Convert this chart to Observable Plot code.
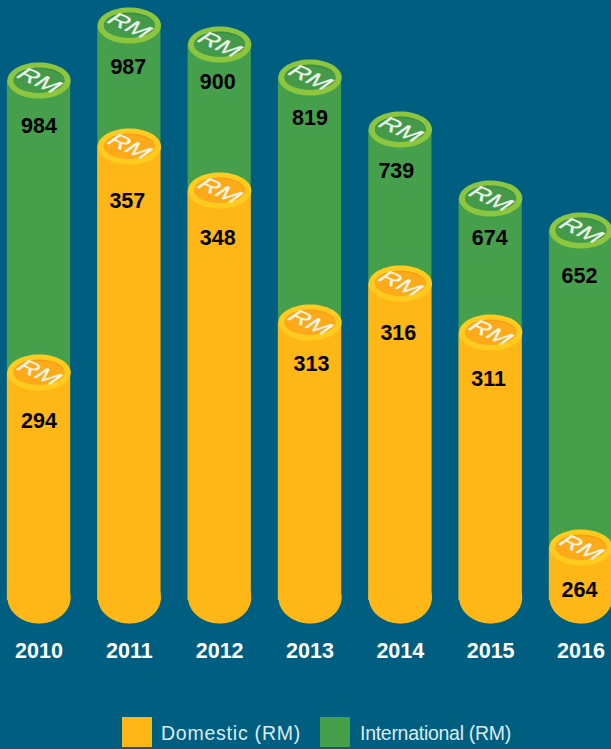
<!DOCTYPE html>
<html>
<head>
<meta charset="utf-8">
<script src="https://cdn.jsdelivr.net/npm/d3@7"></script>
<script src="https://cdn.jsdelivr.net/npm/@observablehq/plot@0.6"></script>
<style>
  html, body { margin: 0; padding: 0; background: #005f80; width: 611px; height: 749px; overflow: hidden; }
  #legend { position: relative; height: 32px; font-family: "Liberation Sans", Arial, sans-serif; font-size: 19.5px; color: #dcebf0; }
  #legend span { position: absolute; top: 0; line-height: 32px; white-space: nowrap; }
  #legend i { position: absolute; top: 0; width: 30px; height: 30px; display: block; }
</style>
</head>
<body>
<div id="chart"></div>
<div id="legend"></div>
<script>
const years = ["2010", "2011", "2012", "2013", "2014", "2015", "2016"];
const domesticValues = [294, 357, 348, 313, 316, 311, 264];
const internationalValues = [984, 987, 900, 819, 739, 674, 652];
// The columns are not to scale with their labels: these are the drawn heights.
const domesticHeights = [228, 454, 410, 278, 317, 268, 53];
const internationalHeights = [520, 575, 556, 523, 471, 402, 370];
const domesticLabelHeights = [179, 399, 362, 236, 267, 221, 10];
const internationalLabelHeights = [474, 533, 518, 482, 429, 362, 324];
const legendLabels = ["Domestic (RM)", "International (RM)"];

const colors = {
  background: "#005f80",
  domestic: "#ffb617", domesticRing: "#ffcb1e", domesticInner: "#fcaa19", domesticEdge: "#f7a018",
  international: "#459f4b", internationalRing: "#8cc63f", internationalInner: "#459a4a", internationalEdge: "#3c8e49"
};
const legendLayout = [
  {swatch: 122, text: 161, spacing: 0.77, color: colors.domestic},
  {swatch: 320, text: 360, spacing: -0.28, color: colors.international}
];
// Small horizontal nudges of the labels, as placed by hand in the picture.
const domesticLabelNudge = [0, -2, -2, 1.5, -2, -2, -1.5];
const internationalLabelNudge = [0, -1, -2, 0, -4, -1, -1.5];

const table = years.map((year, i) => ({
  year,
  domestic: domesticValues[i], international: internationalValues[i],
  dh: domesticHeights[i], ih: internationalHeights[i],
  dl: domesticLabelHeights[i], il: internationalLabelHeights[i],
  dn: domesticLabelNudge[i], in: internationalLabelNudge[i]
}));

// Flattened circle symbol, so the dot mark draws the cylinder ellipses.
const ellipse = (ratio) => ({
  draw(ctx, size) {
    const rx = Math.sqrt(size / Math.PI), ry = rx * ratio, k = 0.5523;
    ctx.moveTo(-rx, 0);
    ctx.bezierCurveTo(-rx, -k * ry, -k * rx, -ry, 0, -ry);
    ctx.bezierCurveTo(k * rx, -ry, rx, -k * ry, rx, 0);
    ctx.bezierCurveTo(rx, k * ry, k * rx, ry, 0, ry);
    ctx.bezierCurveTo(-k * rx, ry, -rx, k * ry, -rx, 0);
    ctx.closePath();
  }
});

function column(heightKey, labelKey, valueKey, nudgeKey, body, ring, edge, inner) {
  return [
    Plot.barY(table, {x: "year", y1: 0, y2: heightKey, fill: body}),
    Plot.dot(table, {x: "year", y: 0, dy: -3, r: 31.5, symbol: ellipse(0.825), fill: body}),
    Plot.dot(table, {x: "year", y: heightKey, r: 31.7, symbol: ellipse(0.57), fill: ring}),
    Plot.dot(table, {x: "year", y: heightKey, dy: -0.5, r: 25.5, symbol: ellipse(0.49), fill: edge}),
    Plot.dot(table, {x: "year", y: heightKey, dy: 0.5, r: 25.5, symbol: ellipse(0.46), fill: inner}),
    Plot.text(table, {x: "year", y: heightKey, text: () => "RM", rotate: 24, fontSize: 19, fontStyle: "italic", fill: "#ffffff", fillOpacity: 0.9, stroke: "#ffffff", strokeWidth: 0.3, strokeOpacity: 0.7, className: "rm"}),
    ...table.map((d) => Plot.text([d], {x: "year", y: labelKey, dx: d[nudgeKey], text: valueKey, fontSize: 21.5, fontWeight: "bold", fill: "#000000"}))
  ];
}

const chart = Plot.plot({
  width: 611,
  height: 717,
  margin: 0,
  style: {background: colors.background, fontFamily: '"Liberation Sans", Arial, sans-serif'},
  x: {domain: years, range: [-6.67, 625.67], round: false, paddingInner: 0.3, paddingOuter: 0.15, label: null},
  y: {domain: [0, 600], range: [600, 0], axis: null},
  marks: [
    ...column("ih", "il", "international", "in", colors.international, colors.internationalRing, colors.internationalEdge, colors.internationalInner),
    ...column("dh", "dl", "domestic", "dn", colors.domestic, colors.domesticRing, colors.domesticEdge, colors.domesticInner),
    Plot.axisX({anchor: "bottom", tickSize: 0, tickPadding: 0, label: null, fontSize: 21.5, fontWeight: "bold", fill: "#ffffff", dy: -75})
  ]
});
document.getElementById("chart").appendChild(chart);
chart.style.display = "block";

// The "RM" stamps are drawn flat on the cap: stretch and shear each text in its own frame.
d3.select(chart).selectAll("g.rm text, .rm text").each(function () {
  const t = this.getAttribute("transform") || "";
  this.setAttribute("transform", t + " skewX(-18) scale(1.4,1.05)");
});

const legend = document.getElementById("legend");
legendLabels.forEach((label, k) => {
  const layout = legendLayout[k];
  const i = document.createElement("i");
  i.style.left = layout.swatch + "px";
  i.style.background = layout.color;
  const s = document.createElement("span");
  s.style.left = layout.text + "px";
  s.style.letterSpacing = layout.spacing + "px";
  s.textContent = label;
  legend.append(i, s);
});
</script>
</body>
</html>
